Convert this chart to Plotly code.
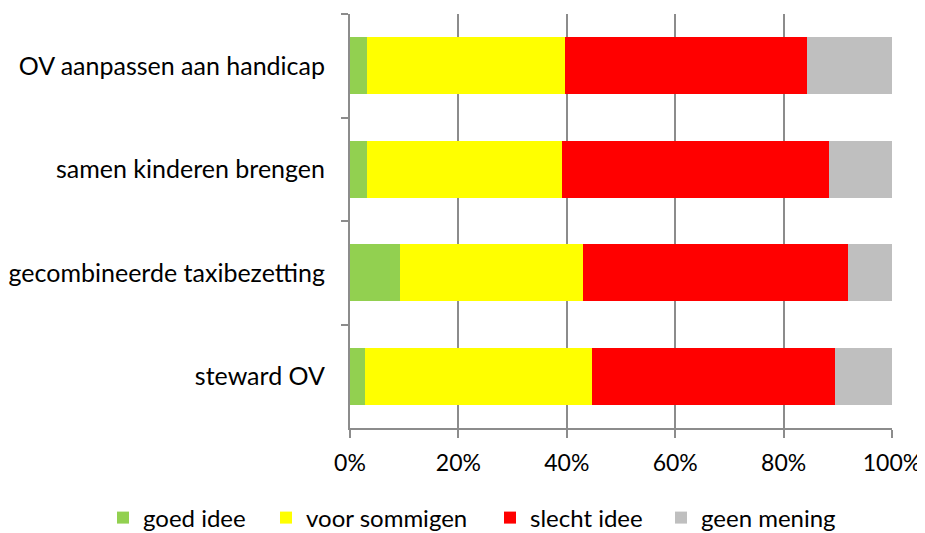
import plotly.graph_objects as go

categories = ["OV aanpassen aan handicap", "samen kinderen brengen",
              "gecombineerde taxibezetting", "steward OV"]
goed_idee = [3.2, 3.2, 9.3, 2.7]
voor_sommigen = [36.5, 35.9, 33.6, 42.0]
slecht_idee = [44.7, 49.2, 49.0, 44.7]
geen_mening = [15.6, 11.7, 8.1, 10.6]
series_names = ["goed idee", "voor sommigen", "slecht idee", "geen mening"]
colors = ["#92D050", "#FFFF00", "#FF0000", "#BFBFBF"]
x_ticks = [0, 20, 40, 60, 80, 100]
x_labels = ["0%", "20%", "40%", "60%", "80%", "100%"]

# figure sits at an 8px body offset inside the page
W, H = 917, 525
ML, MR, MT, MB = 342, 33, 6, 105
PW, PH = W - ML - MR, H - MT - MB

legend_ids = ["legend", "legend2", "legend3", "legend4"]
legend_left_page = [117, 280, 504, 675]  # left edge of each legend swatch (page px)

fig = go.Figure()
for name, vals, col, lid in zip(series_names, [goed_idee, voor_sommigen, slecht_idee, geen_mening],
                                colors, legend_ids):
    fig.add_trace(go.Bar(y=categories, x=vals, name=name, orientation="h", legend=lid,
                         showlegend=True, marker=dict(color=col, line=dict(width=0))))

legend_layout = {}
for lid, left in zip(legend_ids, legend_left_page):
    L_fig = left - 8 - 14
    legend_layout[lid] = dict(orientation="h", xref="paper", yref="paper",
                              x=(L_fig - ML) / PW, xanchor="left",
                              y=-(518 - 8 - (MT + PH)) / PH, yanchor="middle",
                              font=dict(size=24), itemwidth=30,
                              bgcolor="rgba(0,0,0,0)", visible=True)

fig.update_layout(
    showlegend=True,
    barmode="stack",
    bargap=0.45,
    width=W, height=H,
    margin=dict(l=ML, r=MR, t=MT, b=MB, autoexpand=False),
    plot_bgcolor="white", paper_bgcolor="white",
    font=dict(family="Lato", size=24, color="black"),
    xaxis=dict(range=[0, 100], tickvals=x_ticks, ticktext=x_labels,
               showgrid=True, gridcolor="#8C8C8C", gridwidth=2,
               showline=True, linecolor="#8C8C8C", linewidth=2,
               ticks="outside", ticklen=8, tickcolor="#8C8C8C", tickwidth=2,
               ticklabelstandoff=5,
               zeroline=False, automargin=False, tickfont=dict(size=23)),
    yaxis=dict(autorange="reversed", showline=True, linecolor="#8C8C8C", linewidth=2,
               ticks="outside", tickson="boundaries", ticklen=7,
               tickcolor="#8C8C8C", tickwidth=2, showgrid=False,
               ticklabelstandoff=18, automargin=False, tickfont=dict(size=25)),
    **legend_layout,
)

fig.write_html("out.html")
